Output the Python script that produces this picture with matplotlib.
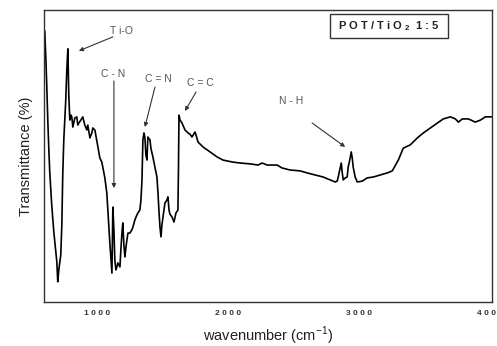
"""FTIR spectrum of the POT/TiO2 1:5 composite with band assignments."""

import matplotlib
matplotlib.use("Agg")
import matplotlib.pyplot as plt
from matplotlib.patches import Rectangle

plt.rcParams["font.family"] = ["Liberation Sans", "DejaVu Sans"]
plt.rcParams["mathtext.fontset"] = "custom"
plt.rcParams["mathtext.rm"] = "Liberation Sans"
plt.rcParams["mathtext.bf"] = "Liberation Sans:bold"

# wavenumber (cm-1) and transmittance (%)
wavenumber = [
    595, 603, 611, 618, 626, 634, 641, 656, 672, 687, 695, 702, 710, 725, 733,
    740, 748, 763, 771, 779, 786, 794, 802, 809, 817, 832, 847, 855, 863, 878,
    893, 908, 924, 931, 947, 962, 969, 985, 1008, 1023, 1038, 1061, 1076, 1084,
    1099, 1115, 1122, 1130, 1137, 1145, 1153, 1160, 1176, 1183, 1191, 1198,
    1206, 1214, 1221, 1229, 1237, 1252, 1267, 1275, 1290, 1305, 1313, 1328,
    1336, 1344, 1351, 1359, 1366, 1374, 1382, 1389, 1405, 1412, 1427, 1443,
    1458, 1466, 1473, 1481, 1489, 1496, 1504, 1519, 1534, 1542, 1550, 1557,
    1573, 1588, 1603, 1618, 1622, 1626, 1634, 1649, 1672, 1695, 1710, 1725,
    1748, 1756, 1771, 1809, 1863, 1916, 1962, 2038, 2092, 2168, 2229, 2260,
    2298, 2374, 2412, 2473, 2550, 2603, 2664, 2725, 2779, 2817, 2832, 2840,
    2855, 2863, 2870, 2878, 2893, 2908, 2916, 2931, 2939, 2947, 2954, 2969,
    2985, 3023, 3061, 3107, 3160, 3214, 3252, 3298, 3336, 3389, 3443, 3489,
    3542, 3596, 3641, 3695, 3733, 3756, 3786, 3832, 3885, 3924, 3962, 4015,
]
transmittance = [
    93.2, 92.8, 83.6, 74.3, 62.3, 52.1, 44.5, 33.2, 24.0, 17.1, 13.7, 6.9,
    11.0, 16.1, 26.4, 43.5, 55.5, 69.2, 79.5, 86.7, 70.9, 62.3, 64.0, 63.4,
    59.9, 63.0, 63.4, 60.6, 61.3, 62.3, 63.4, 60.6, 58.9, 60.6, 56.2, 57.9,
    59.6, 58.9, 53.1, 49.3, 47.9, 42.5, 37.3, 31.5, 20.2, 9.9, 32.5, 24.7,
    14.4, 11.0, 12.0, 13.4, 12.0, 17.8, 23.6, 27.1, 19.5, 15.4, 18.5, 21.2,
    23.6, 23.6, 24.7, 25.7, 28.1, 29.8, 30.5, 31.5, 34.9, 41.8, 55.5, 57.9,
    56.5, 50.3, 48.6, 56.5, 55.5, 52.7, 49.7, 46.2, 42.8, 37.3, 31.5, 25.7,
    22.3, 26.4, 29.1, 33.9, 34.9, 36.0, 31.5, 30.1, 29.1, 27.4, 30.5, 31.5,
    45.2, 64.0, 62.3, 61.3, 58.9, 57.9, 57.5, 56.5, 58.2, 57.2, 54.8, 53.1,
    51.4, 49.7, 48.6, 47.9, 47.6, 47.3, 46.9, 47.6, 46.9, 46.9, 45.9, 45.2,
    44.9, 44.2, 43.5, 42.8, 41.8, 41.1, 41.4, 42.8, 45.9, 47.6, 44.5, 41.8,
    42.5, 42.8, 46.2, 49.3, 51.4, 49.3, 46.2, 42.8, 41.1, 41.4, 42.5, 42.8,
    43.5, 44.2, 44.9, 48.6, 52.7, 53.8, 56.2, 57.9, 59.6, 61.3, 62.7, 63.4,
    62.7, 61.6, 62.7, 62.7, 61.6, 62.3, 63.4, 63.4,
]

tick_values = [1000, 2000, 3000, 4000]
tick_labels = ["1 0 0 0", "2 0 0 0", "3 0 0 0", "4 0 0 0"]

# band label, label position, arrow start, arrow tip (data coords)
band_names = ["T i-O", "C - N", "C = N", "C = C", "N - H"]
band_text_xy = [(1191, 92.8), (1122, 78.1), (1466, 76.4), (1786, 75.0), (2481, 68.8)]
band_arrow_from = [(1122, 90.8), (1130, 75.7), (1443, 73.6), (1756, 71.9), (2641, 61.3)]
band_arrow_to = [(863, 86.0), (1130, 39.0), (1366, 59.9), (1672, 65.4), (2893, 53.1)]

sample_label = "P O T / T i O $_\\mathbf{2}$  1 : 5"

fig = plt.figure(figsize=(4.97, 3.46), dpi=100)
ax = fig.add_axes([0.0885, 0.1272, 0.9014, 0.8439])

ax.plot(wavenumber, transmittance, color="black", linewidth=1.2)

ax.set_xlim(597, 4012)
ax.set_ylim(0, 100)
ax.set_xticks(tick_values)
ax.set_xticklabels(tick_labels, fontsize=6, fontweight="bold", color="#333333")
ax.set_yticks([])
ax.tick_params(axis="x", length=0, pad=6)
for spine in ax.spines.values():
    spine.set_color("#333333")
    spine.set_linewidth(1.0)

ax.set_xlabel("wavenumber (cm$^{-1}$)", fontsize=10.5, color="#222222", labelpad=5)
ax.set_ylabel("Transmittance (%)", fontsize=10.5, color="#222222", labelpad=8)

for name, txy, a0, a1 in zip(band_names, band_text_xy, band_arrow_from, band_arrow_to):
    ax.text(txy[0], txy[1], name, fontsize=7.5, color="#555555",
            ha="center", va="center")
    ax.annotate("", xy=a1, xytext=a0,
                arrowprops=dict(arrowstyle="-|>", color="#333333", lw=0.8,
                                mutation_scale=6, shrinkA=0, shrinkB=0))

ax.add_patch(Rectangle((0.638, 0.904), 0.264, 0.083, transform=ax.transAxes,
                       fill=False, edgecolor="#333333", linewidth=1.0))
ax.text(0.770, 0.946, sample_label, transform=ax.transAxes, fontsize=8,
        fontweight="bold", color="#222222", ha="center", va="center")

fig.savefig("out.png", dpi=100)
